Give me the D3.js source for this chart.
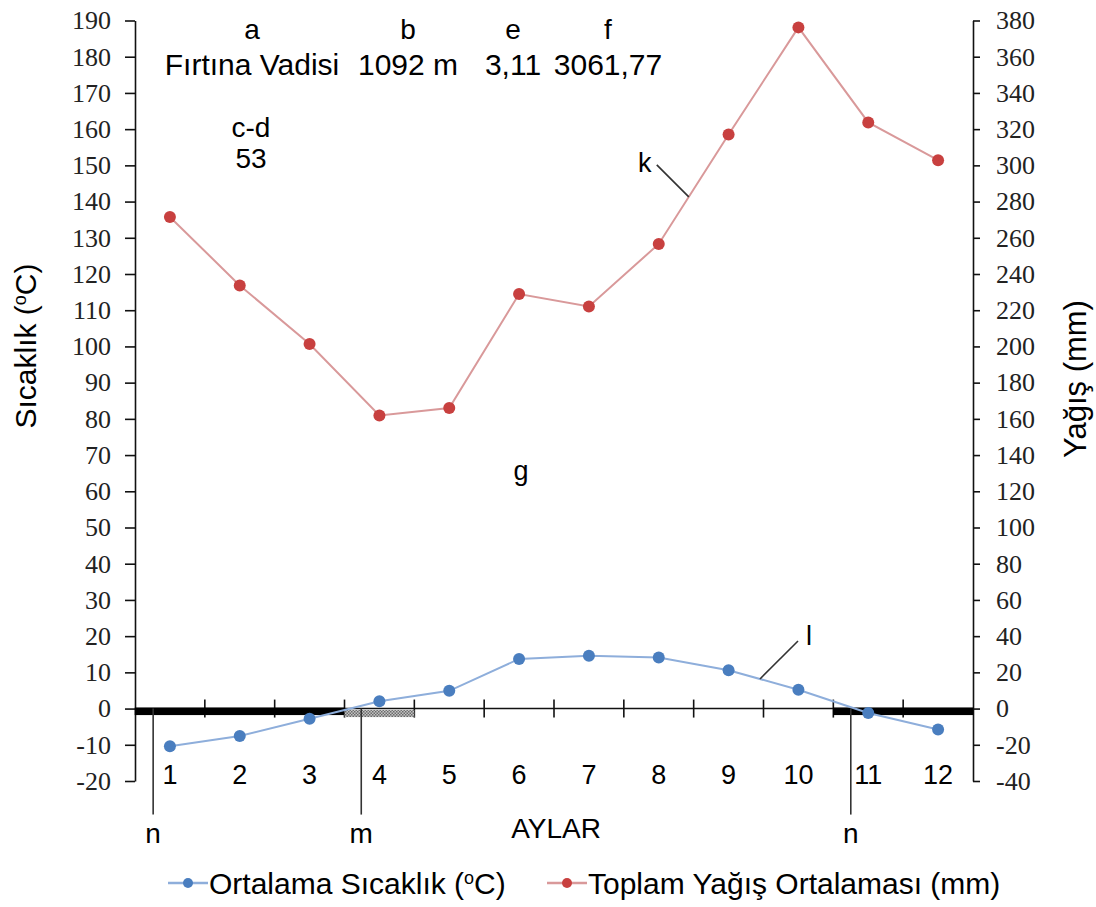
<!DOCTYPE html>
<html>
<head>
<meta charset="utf-8">
<script src="https://cdn.jsdelivr.net/npm/d3@7"></script>
<style>
  body { margin: 0; background: #fff; }
  svg { display: block; }
  .sans { font-family: "Liberation Sans", Arial, sans-serif; fill: #000; }
  .axis text { font-family: "Liberation Serif", "DejaVu Serif", serif !important; }
</style>
</head>
<body>
<svg id="chart" width="1096" height="907"></svg>
<script>
// Monthly climate data for Fırtına Vadisi
const months = [1, 2, 3, 4, 5, 6, 7, 8, 9, 10, 11, 12];
const monthLabels = ["1", "2", "3", "4", "5", "6", "7", "8", "9", "10", "11", "12"];
const temperature = [-10.4, -7.6, -2.8, 2.0, 4.9, 13.7, 14.6, 14.1, 10.6, 5.2, -1.2, -5.8];
const precipitation = [271.5, 233.7, 201.3, 161.9, 166.0, 228.9, 222.1, 256.6, 317.0, 376.2, 323.7, 302.87];

const leftTicks = d3.range(-20, 191, 10);
const rightTicks = d3.range(-40, 381, 20);

// Frost months (solid bar) and frost-risk months (stippled bar)
const frostMonths = [1, 2, 3, 11, 12];
const riskMonths = [4];
// Period boundary markers: month and position within that month
const periodMarks = [
  { label: "n", month: 1, at: 0.26 },
  { label: "m", month: 4, at: 0.24 },
  { label: "n", month: 11, at: 0.25 }
];

const headerKeys = ["a", "b", "e", "f"];
const headerValues = ["Fırtına Vadisi", "1092 m", "3,11", "3061,77"];
const extraKey = "c-d";
const extraValue = "53";

const seriesNames = ["Ortalama Sıcaklık (", "Toplam Yağış Ortalaması (mm)"];

const C = {
  blueLine: "#8eaedb", blueDot: "#4a7ebf",
  redLine: "#d9999a", redDot: "#c8403f"
};

const svg = d3.select("#chart");
const plotL = 135, plotR = 973, plotT = 20.5, plotB = 781;

const x = d3.scaleBand().domain(months).range([plotL, plotR]).padding(0);
const yL = d3.scaleLinear().domain([-20, 190]).range([plotB, plotT]);
const yR = d3.scaleLinear().domain([-40, 380]).range([plotB, plotT]);
const cx = m => x(m) + x.bandwidth() / 2;
const y0 = yL(0);

function styleAxis(g) {
  g.attr("class", "axis").attr("font-family", '"Liberation Serif", "DejaVu Serif", serif');
  g.selectAll("text")
    .style("font-family", '"Liberation Serif", "DejaVu Serif", serif')
    .style("font-size", "26px").attr("fill", "#222");
  g.selectAll("path,line").attr("stroke", "#111").attr("stroke-width", 1.6);
}

// Left axis
svg.append("g").attr("transform", `translate(${plotL},0)`)
  .call(d3.axisLeft(yL).tickValues(leftTicks).tickSize(10).tickSizeOuter(0).tickPadding(14).tickFormat(d => String(d)))
  .call(styleAxis);

// Right axis
svg.append("g").attr("transform", `translate(${plotR},0)`)
  .call(d3.axisRight(yR).tickValues(rightTicks).tickSize(7).tickSizeOuter(0).tickPadding(16).tickFormat(d => String(d)))
  .call(styleAxis);

// Zero line with month-boundary ticks
svg.append("line").attr("x1", plotL).attr("x2", plotR).attr("y1", y0).attr("y2", y0)
  .attr("stroke", "#111").attr("stroke-width", 1.6);
svg.append("g").selectAll("line").data(months.slice(1)).join("line")
  .attr("x1", d => x(d)).attr("x2", d => x(d))
  .attr("y1", y0 - 9).attr("y2", y0 + 9)
  .attr("stroke", "#111").attr("stroke-width", 1.6);

// Stipple pattern for frost-risk period
const defs = svg.append("defs");
const pat = defs.append("pattern").attr("id", "stipple").attr("patternUnits", "userSpaceOnUse")
  .attr("width", 3).attr("height", 3);
pat.append("rect").attr("width", 3).attr("height", 3).attr("fill", "#c4c4c4");
pat.append("rect").attr("width", 1.5).attr("height", 1.5).attr("fill", "#6a6a6a");
pat.append("rect").attr("x", 1.5).attr("y", 1.5).attr("width", 1.5).attr("height", 1.5).attr("fill", "#6a6a6a");

svg.append("g").selectAll("rect").data(frostMonths).join("rect")
  .attr("x", d => x(d) - 0.3).attr("width", x.bandwidth() + 0.6)
  .attr("y", y0 - 1).attr("height", 7.5).attr("fill", "#000");
svg.append("g").selectAll("rect").data(riskMonths).join("rect")
  .attr("x", d => x(d)).attr("width", x.bandwidth())
  .attr("y", y0 + 1.5).attr("height", 7).attr("fill", "url(#stipple)");

// Period markers
const pm = svg.append("g");
pm.selectAll("line").data(periodMarks).join("line")
  .attr("x1", d => x(d.month) + d.at * x.bandwidth())
  .attr("x2", d => x(d.month) + d.at * x.bandwidth())
  .attr("y1", y0).attr("y2", y0 + 106)
  .attr("stroke", "#333").attr("stroke-width", 1.6);
pm.selectAll("text").data(periodMarks).join("text").attr("class", "sans")
  .attr("x", d => x(d.month) + d.at * x.bandwidth())
  .attr("y", y0 + 134).attr("text-anchor", "middle")
  .style("font-size", "28px").text(d => d.label);

// Month labels
svg.append("g").selectAll("text").data(months).join("text").attr("class", "sans")
  .attr("x", d => cx(d)).attr("y", 784).attr("text-anchor", "middle")
  .style("font-size", "27px").text((d, i) => monthLabels[i]);

svg.append("text").attr("class", "sans").attr("x", cx(6) + 37).attr("y", 838)
  .attr("text-anchor", "middle").style("font-size", "28px").text("AYLAR");

// Series lines
const lineT = d3.line().x((d, i) => cx(months[i])).y(d => yL(d));
const lineP = d3.line().x((d, i) => cx(months[i])).y(d => yR(d));

svg.append("path").datum(precipitation).attr("d", lineP)
  .attr("fill", "none").attr("stroke", C.redLine).attr("stroke-width", 2);
svg.append("path").datum(temperature).attr("d", lineT)
  .attr("fill", "none").attr("stroke", C.blueLine).attr("stroke-width", 2);

svg.append("g").selectAll("circle").data(precipitation).join("circle")
  .attr("cx", (d, i) => cx(months[i])).attr("cy", d => yR(d)).attr("r", 6).attr("fill", C.redDot);
svg.append("g").selectAll("circle").data(temperature).join("circle")
  .attr("cx", (d, i) => cx(months[i])).attr("cy", d => yL(d)).attr("r", 6).attr("fill", C.blueDot);

// Leader labels pointing at the curves
function along(values, scale, i, t) {
  return [cx(months[i]) + t * x.bandwidth(), scale(values[i] + t * (values[i + 1] - values[i]))];
}
const kPt = along(precipitation, yR, 7, 0.43);
svg.append("line").attr("x1", kPt[0]).attr("y1", kPt[1]).attr("x2", kPt[0] - 32).attr("y2", kPt[1] - 32)
  .attr("stroke", "#333").attr("stroke-width", 1.6);
svg.append("text").attr("class", "sans").attr("x", kPt[0] - 44).attr("y", kPt[1] - 25)
  .attr("text-anchor", "middle").style("font-size", "27px").text("k");

const lPt = along(temperature, yL, 8, 0.45);
svg.append("line").attr("x1", lPt[0]).attr("y1", lPt[1]).attr("x2", lPt[0] + 38).attr("y2", lPt[1] - 38)
  .attr("stroke", "#333").attr("stroke-width", 1.6);
svg.append("text").attr("class", "sans").attr("x", lPt[0] + 49).attr("y", lPt[1] - 34)
  .attr("text-anchor", "middle").style("font-size", "27px").text("l");

svg.append("text").attr("class", "sans").attr("x", cx(6) + 2).attr("y", 480)
  .attr("text-anchor", "middle").style("font-size", "27px").text("g");

// Station header
const headerX = [252, 408, 513, 608];
svg.append("g").selectAll("text").data(headerKeys).join("text").attr("class", "sans")
  .attr("x", (d, i) => headerX[i]).attr("y", 39).attr("text-anchor", "middle")
  .style("font-size", "28px").text(d => d);
svg.append("g").selectAll("text").data(headerValues).join("text").attr("class", "sans")
  .attr("x", (d, i) => headerX[i]).attr("y", 75).attr("text-anchor", "middle")
  .style("font-size", "30px").text(d => d);
svg.append("text").attr("class", "sans").attr("x", 251).attr("y", 137).attr("text-anchor", "middle")
  .style("font-size", "28px").text(extraKey);
svg.append("text").attr("class", "sans").attr("x", 251).attr("y", 168).attr("text-anchor", "middle")
  .style("font-size", "28px").text(extraValue);

// Axis titles
const tL = svg.append("text").attr("class", "sans")
  .attr("transform", `translate(36,346) rotate(-90)`)
  .attr("text-anchor", "middle").style("font-size", "30px");
tL.append("tspan").text("Sıcaklık (");
tL.append("tspan").attr("baseline-shift", "super").style("font-size", "18px").text("o");
tL.append("tspan").text("C)");

svg.append("text").attr("class", "sans")
  .attr("transform", `translate(1086,379) rotate(-90)`)
  .attr("text-anchor", "middle").style("font-size", "31px").text("Yağış (mm)");

// Legend
const legend = svg.append("g").attr("transform", "translate(0,883)");
const legendItems = [
  { x: 168, line: C.blueLine, dot: C.blueDot, name: seriesNames[0], sup: true },
  { x: 547, line: C.redLine, dot: C.redDot, name: seriesNames[1], sup: false }
];
const li = legend.selectAll("g").data(legendItems).join("g").attr("transform", d => `translate(${d.x},0)`);
li.append("line").attr("x1", 0).attr("x2", 40).attr("stroke", d => d.line).attr("stroke-width", 2.5);
li.append("circle").attr("cx", 20).attr("r", 5).attr("fill", d => d.dot);
const lt = li.append("text").attr("class", "sans").attr("x", 41).attr("y", 11).style("font-size", "30px");
lt.append("tspan").text(d => d.name);
lt.filter(d => d.sup).append("tspan").attr("baseline-shift", "super").style("font-size", "18px").text("o");
lt.filter(d => d.sup).append("tspan").text("C)");
</script>
</body>
</html>
